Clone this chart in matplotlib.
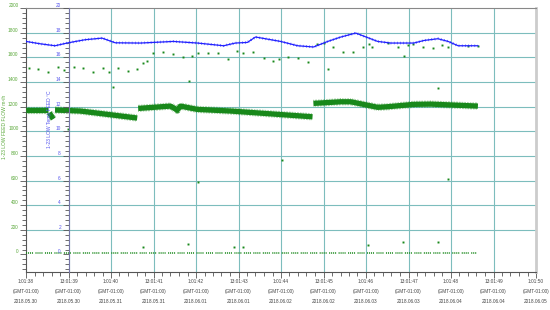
import matplotlib.pyplot as plt
import matplotlib.transforms as mtransforms
from matplotlib.ticker import MultipleLocator

plt.rcParams['font.family'] = ['Liberation Sans', 'DejaVu Sans']

# время в часах от 2018.05.30 1:01:38
tick_hours = [0, 12, 24, 36, 48, 60, 72, 84, 96, 108, 120, 132, 144]
tick_times = ['1:01:38', '13:01:39', '1:01:40', '13:01:41', '1:01:42', '13:01:43', '1:01:44',
              '13:01:45', '1:01:46', '13:01:47', '1:01:48', '13:01:49', '1:01:50']
tick_dates = ['2018.05.30', '2018.05.30', '2018.05.31', '2018.05.31', '2018.06.01', '2018.06.01',
              '2018.06.02', '2018.06.02', '2018.06.03', '2018.06.03', '2018.06.04', '2018.06.04',
              '2018.06.05']

# температура подачи, °C
temp_h = [0, 4.0, 8.2, 11.9, 16.7, 21.5, 25.2, 32.3, 41.6, 48.4, 55.8, 59.1, 62.5, 64.8, 71.9,
          76.7, 81.2, 85.2, 88.9, 93.1, 99.3, 103.0, 109.5, 112.4, 116.3, 119.2, 122.0, 127.6]
temp_c = [17.30, 17.11, 16.95, 17.19, 17.44, 17.57, 17.19, 17.17, 17.30, 17.17, 16.95, 17.17,
          17.22, 17.66, 17.30, 16.95, 16.85, 17.30, 17.66, 17.98, 17.30, 17.17, 17.17, 17.38,
          17.52, 17.30, 16.95, 16.95]

# основная полоса расхода (по участкам)
band1_h = [0, 6.3]
band1_f = [1173, 1173]
dip_h = [6.6, 7.7]
dip_f = [1150, 1100]
band2_h = [8.2, 15.3, 31.4]
band2_f = [1173, 1165, 1108]
band3_h = [31.7, 40.8, 42.7, 43.6, 48.4, 57.7, 67.1, 80.9]
band3_f = [1186, 1205, 1173, 1205, 1178, 1165, 1146, 1118]
band4_h = [81.2, 88.9, 91.7, 99.3, 102.2, 109.5, 114.3, 127.6]
band4_f = [1227, 1240, 1240, 1195, 1200, 1219, 1221, 1205]

# редкие точки около 1500-1700
sparse_h = [0.85, 3.4, 6.2, 9.1, 10.8, 13.6, 16.1, 19.0, 21.8, 23.5, 24.6, 26.0, 28.9, 31.4,
            33.1, 34.2, 35.9, 38.8, 41.6, 44.4, 46.1, 47.0, 48.7, 51.5, 54.3, 56.9, 59.7, 61.4,
            64.2, 67.1, 69.6, 71.3, 74.1, 76.7, 79.5, 82.3, 84.1, 85.2, 86.6, 89.4, 92.3, 95.1,
            96.8, 97.6, 102.2, 105.0, 106.7, 107.8, 109.2, 112.1, 114.9, 116.3, 117.4, 119.2,
            124.8, 127.6]
sparse_f = [1513, 1505, 1481, 1521, 1497, 1521, 1513, 1481, 1513, 1481, 1360, 1513, 1489, 1505,
            1554, 1570, 1635, 1643, 1627, 1603, 1408, 1611, 1635, 1635, 1635, 1587, 1651, 1635,
            1643, 1594, 1570, 1587, 1603, 1594, 1562, 1708, 1716, 1505, 1684, 1643, 1643, 1684,
            1708, 1684, 1716, 1684, 1611, 1700, 1708, 1684, 1676, 1351, 1700, 1684, 1692, 1692]

# выбросы
outlier_h = [11.9, 48.7, 72.4, 119.2, 33.1, 45.8, 58.6, 61.4, 96.5, 106.4, 116.3]
outlier_f = [1020, 589, 766, 613, 62, 86, 62, 62, 78, 102, 102]

# нулевой уровень
zero_h = [0, 127.4]
zero_f = [15, 15]

green = '#18881a'
blue = '#2222ff'
grid_c = '#7dbdbd'

fig = plt.figure(figsize=(5.5, 3.1), dpi=100)
ax = fig.add_axes([26 / 550, 1 - 271.7 / 310, 510 / 550, 263.5 / 310])
ax2 = ax.twinx()

ax.set_xlim(0, 144)
ax.set_ylim(-140, 2000)
ax2.set_ylim(-1.4, 20)

# сетка
ax.set_xticks(tick_hours)
ax.set_xticklabels([f'{t}\n(GMT-01:00)\n{d}' for t, d in zip(tick_times, tick_dates)],
                   fontsize=3.4, color='#444444', linespacing=2.2)
ax.xaxis.set_minor_locator(MultipleLocator(2.4))
ax.set_yticks(range(0, 2001, 200))
ax.set_yticklabels([str(v) for v in range(0, 2001, 200)], fontsize=3.4, color='#5aa83a')
ax.yaxis.set_minor_locator(MultipleLocator(40))
for v in range(200, 2000, 200):
    ax.axhline(v, color=grid_c, lw=0.8, zorder=0)
for h in tick_hours[1:-1]:
    ax.axvline(h, color=grid_c, lw=0.8, zorder=0)

ax.tick_params(axis='both', which='major', direction='out', length=4, width=0.6,
               color='#555555', pad=1.5)
ax.tick_params(axis='both', which='minor', direction='out', length=3, width=0.6,
               color='#555555')

# данные расхода
for hh, ff in [(band1_h, band1_f), (dip_h, dip_f), (band2_h, band2_f),
               (band3_h, band3_f), (band4_h, band4_f)]:
    ax.plot(hh, ff, color=green, lw=3.8, solid_capstyle='butt', zorder=3)
    ax.plot(hh, ff, color=green, lw=5.2, dashes=(0.06, 0.16), alpha=0.8, zorder=3)
ax.plot(sparse_h, sparse_f, 's', color=green, ms=1.4, mew=0, zorder=3)
ax.plot(outlier_h, outlier_f, 's', color=green, ms=1.4, mew=0, zorder=3)
ax.plot(zero_h, zero_f, color=green, lw=1.1,
        dashes=(0.7, 0.6, 0.7, 0.6, 0.7, 0.6, 0.7, 1.6), zorder=3)

# температура
ax2.plot(temp_h, temp_c, color=blue, lw=0.9, zorder=4)
ax2.plot(temp_h, temp_c, color=blue, lw=1.9, dashes=(0.2, 1.0), zorder=4)

# оси
ax.spines['left'].set_color('#555555')
ax.spines['bottom'].set_color('#555555')
ax.spines['top'].set_color('#888888')
ax.spines['right'].set_color('#cccccc')
ax.spines['right'].set_linewidth(2)
for s in ['top', 'right', 'bottom']:
    ax2.spines[s].set_visible(False)
ax2.spines['left'].set_position(('data', 12))
ax2.spines['left'].set_color('#7777aa')
ax2.yaxis.tick_left()
ax2.yaxis.set_label_position('left')
ax2.set_yticks(range(0, 21, 2))
ax2.set_yticklabels([str(v) for v in range(0, 21, 2)], fontsize=3.4, color='#5555ee')
ax2.yaxis.set_minor_locator(MultipleLocator(0.4))
ax2.tick_params(axis='y', which='major', direction='out', length=4, width=0.6,
                color='#555555', pad=1.5)
ax2.tick_params(axis='y', which='minor', direction='out', length=3, width=0.6,
                color='#555555')

ax.set_ylabel('1-23 LOW FEED FLOW m³/h', fontsize=3.6, color='#5aa83a')
ax.yaxis.set_label_coords(-0.037, 0.55)
ax2.set_ylabel('1-23 LOW Temp FEED °C', fontsize=3.6, color='#5555ee')
ax2.yaxis.set_label_coords(0.051, 0.58)

# подписи чуть выше делений
up = mtransforms.ScaledTranslation(0, 3 / 100, fig.dpi_scale_trans)
for lbl in ax.get_yticklabels() + ax2.get_yticklabels():
    lbl.set_transform(lbl.get_transform() + up)

fig.savefig('out.png', dpi=100)
